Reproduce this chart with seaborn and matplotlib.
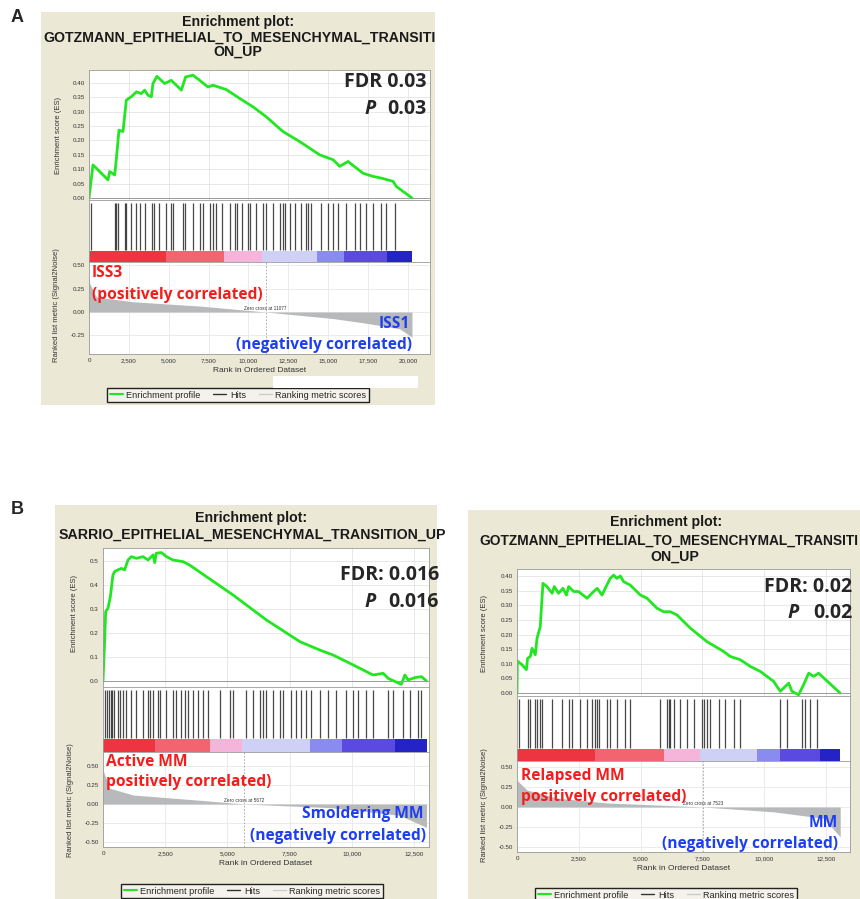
import matplotlib
matplotlib.use("Agg")
import matplotlib.pyplot as plt
from matplotlib.patches import Rectangle
from matplotlib.lines import Line2D
import seaborn as sns

sns.set_theme(style="white")
plt.rcParams['font.family'] = ['Liberation Sans', 'DejaVu Sans']

W, H = 860, 899

# ---------------- data ----------------
# panel A : GOTZMANN, ISS3 vs ISS1
a_es_rank = [0, 250, 1190, 1300, 1610, 1710, 1880, 2130, 2340, 2650, 2970, 3280, 3490, 3700,
             3910, 4010, 4260, 4740, 5160, 5790, 6060, 6520, 6940, 7460, 7780, 8610, 9450,
             10280, 11120, 12160, 13210, 13840, 14460, 15300, 15720, 16240, 17180, 17810,
             18330, 19060, 19270, 20250]
a_es = [0.0, 0.115, 0.063, 0.092, 0.08, 0.133, 0.236, 0.231, 0.34, 0.352, 0.369, 0.363, 0.375,
        0.357, 0.352, 0.398, 0.423, 0.398, 0.409, 0.375, 0.421, 0.427, 0.409, 0.386, 0.392,
        0.377, 0.346, 0.317, 0.282, 0.231, 0.196, 0.173, 0.15, 0.133, 0.11, 0.127, 0.086,
        0.075, 0.069, 0.058, 0.04, 0.0]
a_hits = [146, 1609, 1714, 1818, 2236, 2299, 2654, 2926, 3177, 3490, 3971, 4055, 4389, 4849,
          5121, 5267, 5894, 5998, 6521, 6939, 7148, 7608, 7775, 7984, 8360, 8820, 9133, 9280,
          9614, 9969, 10116, 10492, 10910, 11119, 11537, 11955, 12164, 12268, 12582, 12895,
          13313, 13627, 13731, 13940, 14567, 14985, 15299, 15612, 16135, 16657, 16971, 17389,
          17807, 18329, 18643, 19165]
a_metric_rank = [0, 60, 460, 2760, 6940, 11077, 15300, 17390, 19480, 20250]
a_metric = [0.36, 0.30, 0.16, 0.11, 0.064, 0.0, -0.07, -0.12, -0.18, -0.27]
a_bar_edges = [0, 4830, 8460, 10850, 14300, 16000, 18690, 20250]
a_zero = 11077

# panel B left : SARRIO, active vs smoldering MM
bl_es_rank = [0, 67, 107, 200, 295, 400, 470, 600, 740, 870, 1005, 1140, 1340, 1610, 1810,
              2010, 2080, 2140, 2345, 2550, 2810, 3220, 3480, 4150, 5230, 6570, 7910, 8710,
              9250, 9780, 10320, 10850, 11260, 11460, 11990, 12130, 12260, 12530, 12800, 13000]
bl_es = [0.0, 0.171, 0.289, 0.303, 0.351, 0.442, 0.456, 0.463, 0.469, 0.463, 0.504, 0.518,
         0.511, 0.518, 0.504, 0.525, 0.493, 0.532, 0.535, 0.518, 0.504, 0.497, 0.483, 0.435,
         0.358, 0.254, 0.164, 0.129, 0.108, 0.081, 0.053, 0.025, 0.032, 0.011, -0.014, 0.025,
         0.004, 0.014, 0.018, 0.0]
bl_hits = [67, 161, 241, 308, 375, 442, 603, 697, 804, 911, 1139, 1340, 1608, 1809, 1903,
           2010, 2211, 2305, 2546, 2814, 2948, 3149, 3283, 3417, 3618, 3819, 4020, 4221, 4690,
           5092, 5226, 5762, 6030, 6298, 6432, 6566, 6834, 7102, 7236, 7571, 7772, 7973, 8174,
           8375, 8710, 9045, 9380, 9782, 10050, 10251, 10586, 10854, 11457, 11658, 12060,
           12328, 12663, 12797]
bl_metric_rank = [0, 268, 1206, 3886, 5672, 9246, 11926, 13000]
bl_metric = [0.45, 0.21, 0.12, 0.05, 0.0, -0.05, -0.15, -0.31]
bl_bar_edges = [0, 2090, 4300, 5590, 8320, 9610, 11740, 13000]
bl_zero = 5672

# panel B right : GOTZMANN, relapsed MM
br_es_rank = [0, 13, 200, 380, 430, 540, 610, 740, 810, 940, 1050, 1210, 1420, 1510, 1680,
              1860, 2000, 2090, 2290, 2490, 2830, 3030, 3240, 3440, 3570, 3770, 3910, 4040,
              4180, 4310, 4580, 4990, 5260, 5660, 5930, 6200, 6470, 7010, 7680, 8360, 8630,
              9030, 9440, 9840, 10380, 10650, 10990, 11120, 11390, 11590, 11800, 12000, 12200,
              13070]
br_es = [0.0, 0.11, 0.097, 0.08, 0.119, 0.125, 0.153, 0.131, 0.187, 0.227, 0.375, 0.364,
         0.341, 0.364, 0.341, 0.358, 0.335, 0.364, 0.347, 0.347, 0.324, 0.341, 0.358, 0.335,
         0.358, 0.392, 0.403, 0.392, 0.4, 0.381, 0.369, 0.335, 0.324, 0.29, 0.278, 0.278,
         0.267, 0.222, 0.176, 0.142, 0.125, 0.114, 0.091, 0.074, 0.04, 0.006, 0.034, 0.006,
         -0.006, 0.028, 0.068, 0.057, 0.068, 0.0]
br_hits = [67, 431, 539, 741, 809, 944, 1011, 1415, 1820, 2089, 2224, 2561, 2831, 3033, 3168,
           3235, 3303, 3640, 3774, 4044, 4381, 4583, 5796, 6066, 6133, 6201, 6336, 6605, 6875,
           7144, 7481, 7549, 7684, 7818, 8155, 8425, 8762, 9032, 10649, 10919, 11525, 11660,
           11862, 12132]
br_metric_rank = [0, 404, 1618, 3640, 7523, 10380, 12400, 13075]
br_metric = [0.33, 0.21, 0.11, 0.05, 0.0, -0.06, -0.14, -0.37]
br_bar_edges = [0, 3155, 5950, 7400, 9710, 10640, 12260, 13070]
br_zero = 7523

bar_colors = ['#ec3540', '#f2646f', '#f5b4da', '#cfd0f6', '#8a8bf0', '#5a4ae0', '#2323c6']

GREEN = '#22e622'
RED = '#f51c1c'
BLUE = '#1e3ef2'
BEIGE = '#ebe8d5'


def rect(l, t, r, b):
    return [l / W, 1 - b / H, (r - l) / W, (b - t) / H]


def style_ax(ax):
    ax.set_facecolor('white')
    for s in ax.spines.values():
        s.set_color('#9a9a9a')
        s.set_linewidth(0.6)
    ax.tick_params(axis='both', labelsize=4.5, colors='#333333', length=1.5, pad=1.5)


def gsea(box, es_rank, es, hits, m_rank, m_vals, edges, zero, xmax,
         es_ylim, es_ticks, es_fmt, m_ylim, m_ticks, bar_frac, xticks):
    l, t_es, b_es, b_hits, b_m, r = box
    ax_es = fig.add_axes(rect(l, t_es, r, b_es))
    ax_h = fig.add_axes(rect(l, b_es, r, b_hits))
    ax_m = fig.add_axes(rect(l, b_hits, r, b_m))

    style_ax(ax_es)
    sns.lineplot(x=es_rank, y=es, ax=ax_es, color=GREEN, lw=2.0)
    ax_es.axhline(0, color='#9a9a9a', lw=0.7)
    ax_es.set_xlim(0, xmax)
    ax_es.set_ylim(*es_ylim)
    ax_es.set_yticks(es_ticks)
    ax_es.set_yticklabels([es_fmt.format(v) for v in es_ticks])
    ax_es.set_xticks(xticks)
    ax_es.set_xticklabels([])
    ax_es.tick_params(axis='x', length=0)
    ax_es.grid(True, color='#e4e4e4', lw=0.6)

    style_ax(ax_h)
    ax_h.set_xlim(0, xmax)
    ax_h.set_ylim(0, 1)
    ax_h.vlines(hits, bar_frac + 0.02, 0.95, color='#1a1a1a', lw=0.9, alpha=0.8)
    for i, c in enumerate(bar_colors):
        ax_h.barh(bar_frac / 2, edges[i + 1] - edges[i], left=edges[i], height=bar_frac,
                  color=c, edgecolor='none')
    ax_h.set_xticks([])
    ax_h.set_yticks([])

    style_ax(ax_m)
    ax_m.fill_between(m_rank, m_vals, 0, color='#b7b9ba', lw=0)
    ax_m.axvline(zero, color='#a0a0a0', ls=(0, (2, 2)), lw=0.6)
    ax_m.text(zero, 0.012, f'Zero cross at {zero}', fontsize=3.4, ha='center', va='bottom',
              color='#333333')
    ax_m.set_xlim(0, xmax)
    ax_m.set_ylim(*m_ylim)
    ax_m.set_yticks(m_ticks)
    ax_m.set_yticklabels([f'{v:.2f}' for v in m_ticks])
    ax_m.set_xticks(xticks)
    ax_m.set_xticklabels([f'{v:,}' for v in xticks])
    ax_m.grid(True, color='#e8e8e8', lw=0.6)
    ax_m.set_xlabel('Rank in Ordered Dataset', fontsize=6, color='#333333', labelpad=3)
    return ax_es, ax_h, ax_m


def ftext(x, y, s, **kw):
    fig.text(x / W, 1 - y / H, s, **kw)


fig = plt.figure(figsize=(8.6, 8.99), dpi=100)
fig.patch.set_facecolor('white')

# beige frames
for (l, t, r, b) in [(41, 12, 435, 405), (55, 505, 437, 899), (468, 510, 860, 899)]:
    fig.add_artist(Rectangle((l / W, 1 - b / H), (r - l) / W, (b - t) / H,
                             transform=fig.transFigure, facecolor=BEIGE, edgecolor='none',
                             zorder=-1))

title_kw = dict(fontsize=10.2, fontweight='bold', color='#1a1a1a', va='center',
                family=['Liberation Sans', 'DejaVu Sans'])
big_kw = dict(fontsize=14, fontweight='bold', va='center',
              family=['Open Sans', 'DejaVu Sans'])
lab_kw = dict(fontsize=11.2, fontweight='bold', va='center',
              family=['Open Sans', 'DejaVu Sans'])
ylab_kw = dict(fontsize=5.5, rotation=90, ha='center', va='center', color='#333333')

# ---------------- panel A ----------------
gsea((89, 70, 200, 262, 354, 430), a_es_rank, a_es, a_hits, a_metric_rank, a_metric,
     a_bar_edges, a_zero, 21380, (-0.007, 0.445), [0.0, 0.05, 0.10, 0.15, 0.20, 0.25, 0.30,
                                                     0.35, 0.40], '{:.2f}',
     (-0.45, 0.536), [0.5, 0.25, 0.0, -0.25], 0.18,
     [0, 2500, 5000, 7500, 10000, 12500, 15000, 17500, 20000])
ftext(17, 18, 'A', fontsize=13, fontweight='bold', ha='center', va='center')
ftext(238, 22, 'Enrichment plot:', ha='center', **title_kw)
ftext(43, 38, 'GOTZMANN_EPITHELIAL_TO_MESENCHYMAL_TRANSITI', ha='left', **title_kw)
ftext(238, 52, 'ON_UP', ha='center', **title_kw)
ftext(58, 135, 'Enrichment score (ES)', **ylab_kw)
ftext(56, 305, 'Ranked list metric (Signal2Noise)', **ylab_kw)
ftext(427, 82, 'FDR 0.03', ha='right', **big_kw)
ftext(427, 109, '0.03', ha='right', **big_kw)
ftext(376, 109, 'P', ha='right', style='italic', **big_kw)
ftext(92, 273, 'ISS3', ha='left', color=RED, **lab_kw)
ftext(92, 295, '(positively correlated)', ha='left', color=RED, **lab_kw)
ftext(410, 324, 'ISS1', ha='right', color=BLUE, **lab_kw)
ftext(412, 345, '(negatively correlated)', ha='right', color=BLUE, **lab_kw)

# ---------------- panel B left ----------------
gsea((103, 548, 687, 752, 847, 429), bl_es_rank, bl_es, bl_hits, bl_metric_rank, bl_metric,
     bl_bar_edges, bl_zero, 13100, (-0.025, 0.554), [0.0, 0.1, 0.2, 0.3, 0.4, 0.5], '{:.1f}',
     (-0.57, 0.69), [0.5, 0.25, 0.0, -0.25, -0.5], 0.2,
     [0, 2500, 5000, 7500, 10000, 12500])
ftext(17, 510, 'B', fontsize=13, fontweight='bold', ha='center', va='center')
ftext(251, 518, 'Enrichment plot:', ha='center', **title_kw)
ftext(252, 535, 'SARRIO_EPITHELIAL_MESENCHYMAL_TRANSITION_UP', ha='center', **title_kw)
ftext(75, 613, 'Enrichment score (ES)', **ylab_kw)
ftext(70, 800, 'Ranked list metric (Signal2Noise)', **ylab_kw)
ftext(439, 575, 'FDR: 0.016', ha='right', **big_kw)
ftext(439, 602, '0.016', ha='right', **big_kw)
ftext(376, 602, 'P', ha='right', style='italic', **big_kw)
ftext(106, 762, 'Active MM', ha='left', color=RED, **lab_kw)
ftext(106, 782, 'positively correlated)', ha='left', color=RED, **lab_kw)
ftext(424, 814, 'Smoldering MM', ha='right', color=BLUE, **lab_kw)
ftext(426, 836, '(negatively correlated)', ha='right', color=BLUE, **lab_kw)

# ---------------- panel B right ----------------
gsea((517, 569, 696, 761, 852, 850), br_es_rank, br_es, br_hits, br_metric_rank, br_metric,
     br_bar_edges, br_zero, 13470, (-0.01, 0.424), [0.0, 0.05, 0.10, 0.15, 0.20, 0.25, 0.30,
                                                     0.35, 0.40], '{:.2f}',
     (-0.557, 0.569), [0.5, 0.25, 0.0, -0.25, -0.5], 0.185,
     [0, 2500, 5000, 7500, 10000, 12500])
ftext(666, 522, 'Enrichment plot:', ha='center', **title_kw)
ftext(858, 541, 'GOTZMANN_EPITHELIAL_TO_MESENCHYMAL_TRANSITI', ha='right',
      **{**title_kw, 'fontsize': 9.9})
ftext(675, 557, 'ON_UP', ha='center', **title_kw)
ftext(485, 633, 'Enrichment score (ES)', **ylab_kw)
ftext(485, 805, 'Ranked list metric (Signal2Noise)', **ylab_kw)
ftext(852, 587, 'FDR: 0.02', ha='right', **big_kw)
ftext(852, 613, '0.02', ha='right', **big_kw)
ftext(799, 613, 'P', ha='right', style='italic', **big_kw)
ftext(521, 776, 'Relapsed MM', ha='left', color=RED, **lab_kw)
ftext(521, 797, 'positively correlated)', ha='left', color=RED, **lab_kw)
ftext(838, 823, 'MM', ha='right', color=BLUE, **lab_kw)
ftext(838, 844, '(negatively correlated)', ha='right', color=BLUE, **lab_kw)

# legends
handles = [Line2D([], [], color=GREEN, lw=1.5), Line2D([], [], color='#333333', lw=1),
           Line2D([], [], color='#cccccc', lw=1)]
labels = ['Enrichment profile', 'Hits', 'Ranking metric scores']
for cx, cy in [(238, 395), (252, 891), (666, 895)]:
    fig.legend(handles, labels, loc='center', bbox_to_anchor=(cx / W, 1 - cy / H), ncol=3,
               fontsize=6.6, frameon=True, fancybox=False, edgecolor='#222222',
               facecolor='#f4f2ea', framealpha=1, handlelength=1.4, handletextpad=0.4,
               columnspacing=1.4, borderpad=0.25)

# white patch over panel A legend area
fig.add_artist(Rectangle((273 / W, 1 - 388 / H), (418 - 273) / W, 12 / H,
                         transform=fig.transFigure, facecolor='white', edgecolor='none',
                         zorder=10))

fig.savefig('out.png', dpi=100)
